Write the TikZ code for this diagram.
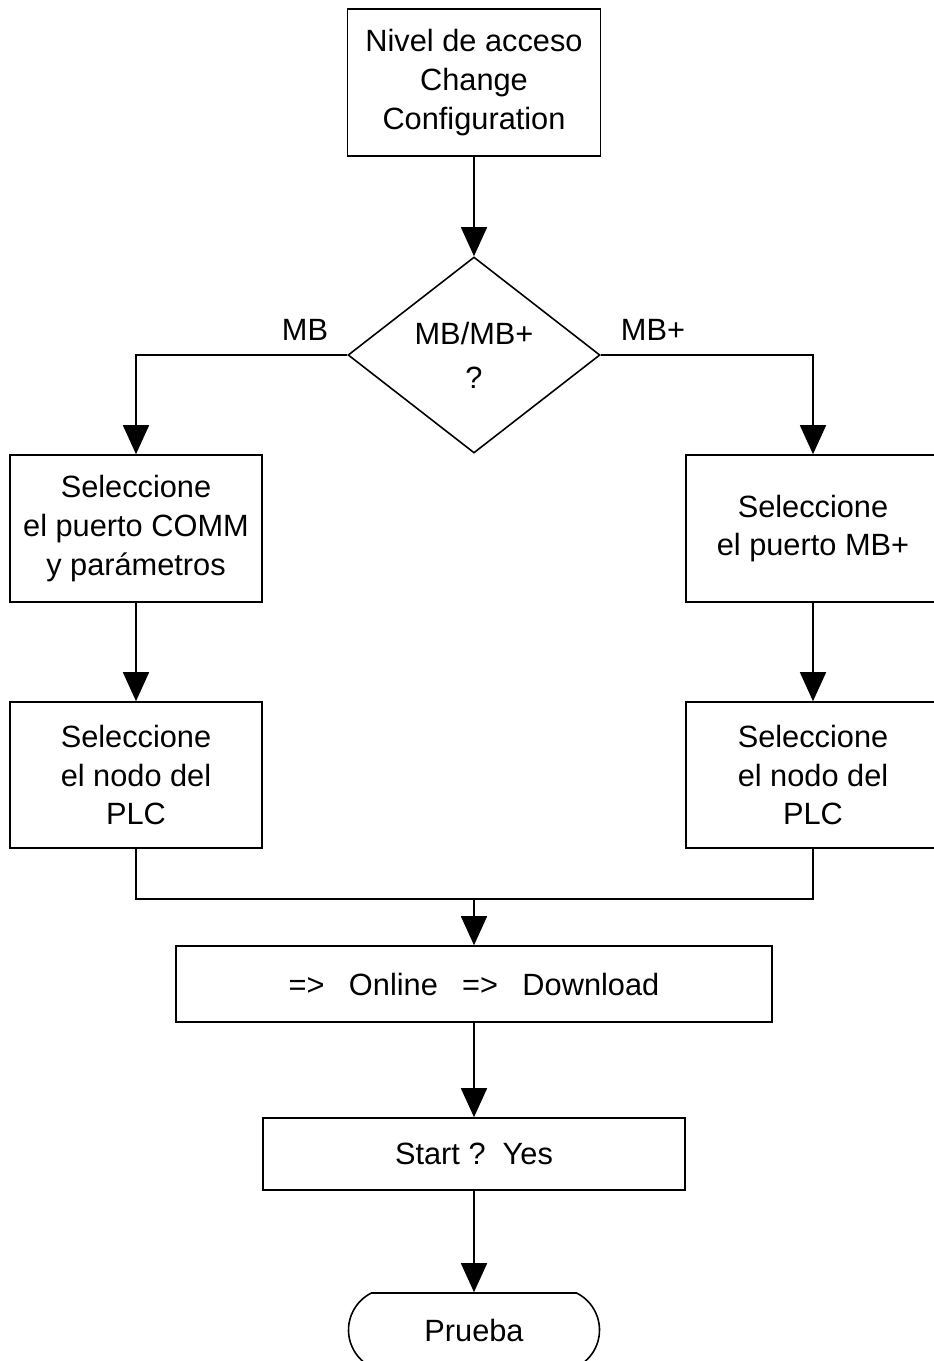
\documentclass[tikz,border=0pt]{standalone}
\usepackage{fontspec}
\setmainfont{Liberation Sans}
\usetikzlibrary{arrows.meta,shapes.geometric,shapes.misc}

\tikzset{
  caja/.style={draw, rectangle, align=center, inner sep=0pt},
  flecha/.style={-{Triangle[length=5.8mm, width=5.2mm]}},
}

\begin{document}
\begin{tikzpicture}[x=0.2mm, y=-0.2mm, line width=0.9pt,
  font=\fontsize{17.5pt}{22pt}\selectfont]
\useasboundingbox (0,0) rectangle (934,1361);
\clip (0,0) rectangle (934,1361);

\coordinate (junta) at (474, 899);

\node[caja, minimum width=50.6mm, minimum height=29.4mm] (cfg) at (474, 82.5)
  {Nivel de acceso\\Change\\Configuration};
\node[draw, diamond, inner sep=0pt, aspect=1.29, minimum width=50.4mm,
  minimum height=39.2mm, align=center] (dec) at (474, 355) {MB/MB+\\[3pt]?};
\node[caja, minimum width=50.4mm, minimum height=29.4mm] (comm) at (136, 528.5)
  {Seleccione\\el puerto COMM\\y parámetros};
\node[caja, minimum width=50.4mm, minimum height=29.2mm] (nodoA) at (136, 775)
  {Seleccione\\el nodo del\\PLC};
\node[caja, minimum width=50.8mm, minimum height=29.4mm] (mbp) at (813, 528.5)
  {Seleccione\\el puerto MB+};
\node[caja, minimum width=50.8mm, minimum height=29.2mm] (nodoB) at (813, 775)
  {Seleccione\\el nodo del\\PLC};
\node[caja, minimum width=119.2mm, minimum height=15.2mm] (online) at (474, 984)
  {=>\hspace{9pt} Online\hspace{9pt} =>\hspace{9pt} Download};
\node[caja, minimum width=84.4mm, minimum height=14.4mm] (start) at (474, 1154)
  {Start ?\ \ Yes};
\node[draw, rounded rectangle, rounded rectangle arc length=127, inner sep=0pt,
  minimum width=50.2mm, minimum height=14.8mm] (prueba) at (474, 1330) {Prueba};

\draw[flecha] (cfg) -- (dec);
\draw[flecha] (dec.west) -| (comm.north);
\draw[flecha] (dec.east) -| (mbp.north);
\draw[flecha] (comm) -- (nodoA);
\draw[flecha] (mbp) -- (nodoB);
\draw (nodoA.south) |- (junta) -| (nodoB.south);
\draw[flecha] (junta) -- (online);
\draw[flecha] (online) -- (start);
\draw[flecha] (start) -- (prueba);

\node (lblMB) at (305, 330) {MB};
\node (lblMBp) at (653, 330) {MB+};
%\draw (dec.south) node[below] {};
\end{tikzpicture}
\end{document}
